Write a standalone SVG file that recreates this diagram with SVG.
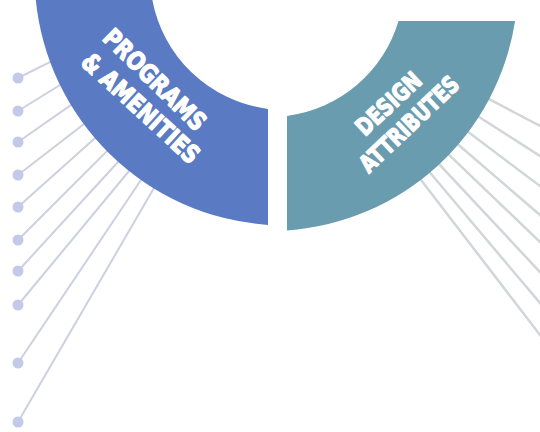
<svg xmlns="http://www.w3.org/2000/svg" width="540" height="432" viewBox="0 0 540 432">
<defs>
<style>
.ln-l{stroke:#cdd0de;stroke-width:2;fill:none;stroke-linecap:butt}
.ln-r{stroke:#d2d6d8;stroke-width:2.5;fill:none;stroke-linecap:butt}
.dot{fill:#c3c9e8}
.blue{fill:#5a7bc3}
.teal{fill:#6a9caf}
.lbl{font-family:"DejaVu Sans","Liberation Sans",sans-serif;font-weight:bold;fill:#ffffff;stroke:#ffffff;stroke-width:1.3;stroke-linejoin:round;text-anchor:middle}
</style>
</defs>
<rect width="540" height="432" fill="#ffffff"/>
<g id="connectors">
<line class="ln-l" x1="18" y1="78" x2="51.8" y2="61.1"/>
<line class="ln-l" x1="18" y1="111" x2="61.7" y2="84"/>
<line class="ln-l" x1="18" y1="142" x2="72.6" y2="103.9"/>
<line class="ln-l" x1="18" y1="175" x2="85.6" y2="122.8"/>
<line class="ln-l" x1="18" y1="207" x2="96.5" y2="136.7"/>
<line class="ln-l" x1="18" y1="240" x2="108.4" y2="149.6"/>
<line class="ln-l" x1="18" y1="271" x2="119.4" y2="160.5"/>
<line class="ln-l" x1="18" y1="305" x2="130.3" y2="169.5"/>
<line class="ln-l" x1="18" y1="363" x2="142.1" y2="178.3"/>
<line class="ln-l" x1="18" y1="422" x2="155" y2="186.3"/>
<line class="ln-r" x1="487.4" y1="98.2" x2="545" y2="128.6"/>
<line class="ln-r" x1="477.1" y1="115.7" x2="545" y2="159.2"/>
<line class="ln-r" x1="466.6" y1="130.8" x2="545" y2="189.8"/>
<line class="ln-r" x1="456.6" y1="143.3" x2="545" y2="219.3"/>
<line class="ln-r" x1="447.5" y1="153.3" x2="545" y2="246.8"/>
<line class="ln-r" x1="437.9" y1="162.8" x2="545" y2="277.4"/>
<line class="ln-r" x1="428.6" y1="171" x2="545" y2="308.9"/>
<line class="ln-r" x1="419.7" y1="178.2" x2="545" y2="341.5"/>
</g>
<g id="dots-left">
<g id="dot-l1"><circle class="dot" cx="18" cy="78" r="5.5"/></g>
<g id="dot-l2"><circle class="dot" cx="18" cy="111" r="5.5"/></g>
<g id="dot-l3"><circle class="dot" cx="18" cy="142" r="5.5"/></g>
<g id="dot-l4"><circle class="dot" cx="18" cy="175" r="5.5"/></g>
<g id="dot-l5"><circle class="dot" cx="18" cy="207" r="5.5"/></g>
<g id="dot-l6"><circle class="dot" cx="18" cy="240" r="5.5"/></g>
<g id="dot-l7"><circle class="dot" cx="18" cy="271" r="5.5"/></g>
<g id="dot-l8"><circle class="dot" cx="18" cy="305" r="5.5"/></g>
<g id="dot-l9"><circle class="dot" cx="18" cy="363" r="5.5"/></g>
<g id="dot-l10"><circle class="dot" cx="18" cy="422" r="5.5"/></g>
</g>
<g id="programs-amenities">
<path class="blue" d="M35.6,-2 A250.5,250.5 0 0 0 268,224.9 L268,108.9 A135,135 0 0 1 152,-2 Z"/>
<text class="lbl" font-size="25" transform="translate(155,79.5) rotate(44.5)" dy="9" textLength="133" lengthAdjust="spacingAndGlyphs">PROGRAMS</text>
<text class="lbl" font-size="25" transform="translate(141,108) rotate(42.5)" dy="9" textLength="150" lengthAdjust="spacingAndGlyphs">&amp; AMENITIES</text>
</g>
<g id="design-attributes">
<path class="teal" d="M398.5,21 L515.1,21 A248,248 0 0 1 287,230.4 L287,115.9 A134,134 0 0 0 398.5,21 Z"/>
<text class="lbl" font-size="24" transform="translate(388.5,103.5) rotate(-43)" dy="8.5" textLength="80" lengthAdjust="spacingAndGlyphs">DESIGN</text>
<text class="lbl" font-size="24" transform="translate(409,124) rotate(-43.5)" dy="8.5" textLength="127" lengthAdjust="spacingAndGlyphs">ATTRIBUTES</text>
</g>
</svg>
